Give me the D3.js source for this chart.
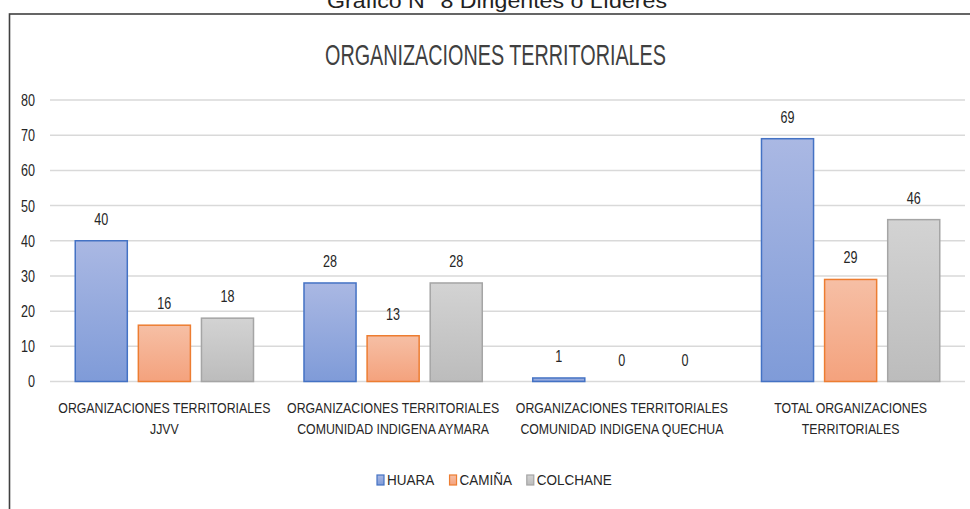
<!DOCTYPE html>
<html>
<head>
<meta charset="utf-8">
<script src="https://cdn.jsdelivr.net/npm/d3@7"></script>
<style>
  body { margin: 0; background: #fff; }
  text { font-family: "Liberation Sans", Arial, sans-serif; fill: #262626; }
</style>
</head>
<body>
<div class="main"></div>
<script>
var categories = [
    ['ORGANIZACIONES TERRITORIALES', 'JJVV'],
    ['ORGANIZACIONES TERRITORIALES', 'COMUNIDAD INDIGENA AYMARA'],
    ['ORGANIZACIONES TERRITORIALES', 'COMUNIDAD INDIGENA QUECHUA'],
    ['TOTAL ORGANIZACIONES', 'TERRITORIALES']
];
var seriesNames = ['HUARA', 'CAMIÑA', 'COLCHANE'];
var huara = [40, 28, 1, 69];
var camina = [16, 13, 0, 29];
var colchane = [18, 28, 0, 46];
var yTicks = [0, 10, 20, 30, 40, 50, 60, 70, 80];

var values = [huara, camina, colchane];
var topColors = ['#aab8e3', '#f6bfa5', '#d3d3d3'];
var bottomColors = ['#7f9bd8', '#f4a27d', '#bcbcbc'];
var borderColors = ['#4472c4', '#ed7d31', '#a5a5a5'];

var W = 970, H = 509;
var svg = d3.select('.main')
    .append('svg')
    .attr('width', W)
    .attr('height', H);

// squeeze a text horizontally (the chart font is a narrow one)
function squeeze(sel, factor) {
    sel.each(function () {
        var len = this.getComputedTextLength();
        d3.select(this)
            .attr('textLength', len * factor)
            .attr('lengthAdjust', 'spacingAndGlyphs');
    });
}
function fitTo(sel, width) {
    sel.attr('textLength', width).attr('lengthAdjust', 'spacingAndGlyphs');
}

var defs = svg.append('defs');
seriesNames.forEach(function (s, i) {
    var grad = defs.append('linearGradient')
        .attr('id', 'grad' + i)
        .attr('x1', 0).attr('y1', 0)
        .attr('x2', 0).attr('y2', 1);
    grad.append('stop').attr('offset', '0%').attr('stop-color', topColors[i]);
    grad.append('stop').attr('offset', '100%').attr('stop-color', bottomColors[i]);
});

// header above the frame (cut at top in the original too)
svg.append('text')
    .text('Gráfico N° 8 Dirigentes o Líderes')
    .attr('x', 497)
    .attr('y', 8)
    .attr('text-anchor', 'middle')
    .style('font-size', '20px')
    .style('fill', '#222')
    .call(fitTo, 340);

// frame
svg.append('rect')
    .attr('x', 9.5)
    .attr('y', 14)
    .attr('width', W)
    .attr('height', H)
    .style('fill', 'none')
    .style('stroke', '#404040')
    .style('stroke-width', 1.6);

svg.append('text')
    .text('ORGANIZACIONES TERRITORIALES')
    .attr('x', 495.5)
    .attr('y', 65)
    .attr('text-anchor', 'middle')
    .style('font-size', '30px')
    .style('fill', '#404040')
    .call(fitTo, 341);

var x0 = d3.scaleBand().domain(d3.range(categories.length)).range([50, 965]);
var x1 = d3.scaleBand().domain(d3.range(seriesNames.length)).range([0, x0.bandwidth()])
    .paddingInner(0.175).paddingOuter(0.4);
var y = d3.scaleLinear().domain([0, 80]).range([381.5, 100]);

// gridlines
svg.append('g')
    .selectAll('line')
    .data(yTicks)
    .enter()
    .append('line')
    .attr('x1', 50)
    .attr('x2', 965)
    .attr('y1', function (d) { return y(d); })
    .attr('y2', function (d) { return y(d); })
    .style('stroke', '#d9d9d9')
    .style('stroke-width', 1.5);

var yAxis = svg.append('g')
    .attr('transform', 'translate(35,0)')
    .call(d3.axisLeft(y).tickValues(yTicks).tickSize(0).tickPadding(0));
yAxis.select('.domain').remove();
yAxis.selectAll('text')
    .style('font-size', '17px')
    .style('font-family', '"Liberation Sans", Arial, sans-serif')
    .attr('fill', '#262626')
    .call(squeeze, 0.74);

var groups = svg.selectAll('.grp')
    .data(categories)
    .enter()
    .append('g')
    .attr('class', 'grp')
    .attr('transform', function (d, i) { return 'translate(' + [x0(i), 0] + ')'; });

groups.each(function (c, ci) {
    var g = d3.select(this);
    values.forEach(function (arr, si) {
        var v = arr[ci];
        if (v > 0) {
            g.append('rect')
                .attr('x', x1(si))
                .attr('y', y(v))
                .attr('width', x1.bandwidth())
                .attr('height', y(0) - y(v))
                .attr('fill', 'url(#grad' + si + ')')
                .style('stroke', borderColors[si])
                .style('stroke-width', 1.5);
        }
        g.append('text')
            .attr('class', 'val')
            .text(v)
            .attr('x', x1(si) + x1.bandwidth() / 2)
            .attr('y', y(v) - 16)
            .attr('text-anchor', 'middle')
            .style('font-size', '17px');
    });
    c.forEach(function (line, li) {
        g.append('text')
            .attr('class', 'xlab')
            .text(line)
            .attr('x', x0.bandwidth() / 2)
            .attr('y', 413 + li * 21)
            .attr('text-anchor', 'middle')
            .style('font-size', '15px');
    });
});
svg.selectAll('.val').call(squeeze, 0.74);
svg.selectAll('.xlab').call(squeeze, 0.82);

// legend, laid out left to right
var legend = svg.append('g').attr('transform', 'translate(377,475)');
var lx = 0;
seriesNames.forEach(function (name, i) {
    var item = legend.append('g').attr('transform', 'translate(' + lx + ',0)');
    item.append('rect')
        .attr('width', 7).attr('height', 10)
        .attr('fill', 'url(#grad' + i + ')')
        .style('stroke', borderColors[i])
        .style('stroke-width', 1.2);
    var t = item.append('text')
        .text(name)
        .attr('x', 10)
        .attr('y', 10)
        .style('font-size', '15px')
        .call(squeeze, 0.9);
    lx += 10 + t.node().getComputedTextLength() * 0.9 + 20;
});
</script>
</body>
</html>
